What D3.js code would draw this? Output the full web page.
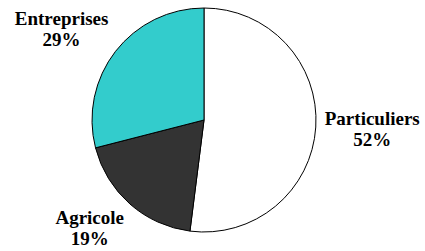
<!DOCTYPE html>
<html lang="fr">
<head>
<meta charset="UTF-8" />
<title>Répartition</title>
<script src="https://d3js.org/d3.v7.min.js"></script>
<style>
  body { margin: 0; background: #fff; }
  .lbl { font-family: "Liberation Serif", "DejaVu Serif", serif; font-weight: bold; font-size: 19px; }
</style>
</head>
<body>
<svg id="pie" width="425" height="251"></svg>
<script>
// data
var categories = ["Particuliers", "Agricole", "Entreprises"];
var values = [52, 19, 29];
var colours = ["#ffffff", "#333333", "#33cccc"];

var svg = d3.select("#pie"),
    cx = 204, cy = 120, radius = 112;

var data = categories.map(function(c, i){ return {name: c, value: values[i], colour: colours[i]}; });

var pie = d3.pie().sort(null).value(function(d){ return d.value; });
var arc = d3.arc().innerRadius(0).outerRadius(radius);

var g = svg.append("g").attr("transform", "translate(" + cx + "," + cy + ")");

var arcs = pie(data);

g.selectAll("path")
  .data(arcs)
  .enter()
  .append("path")
    .attr("d", arc)
    .attr("fill", function(d){ return d.data.colour; })
    .attr("stroke", "#000")
    .attr("stroke-width", 1);

// labels: the box corner/side facing the pie sits just off the arc's mid point
var gap = 9, lineH = 21, capH = 13;
var labels = g.selectAll("text.lbl")
  .data(arcs)
  .enter()
  .append("text")
    .attr("class", "lbl")
    .attr("fill", "#000")
    .attr("text-anchor", "middle");

labels.append("tspan").attr("x", 0).attr("dy", 0).text(function(d){ return d.data.name; });
labels.append("tspan").attr("x", 0).attr("dy", lineH).text(function(d){ return d.data.value + "%"; });

labels.each(function(d){
  var t = d3.select(this);
  var a = (d.startAngle + d.endAngle) / 2;
  var ux = Math.sin(a), uy = -Math.cos(a);
  var w = 0;
  t.selectAll("tspan").each(function(){ w = Math.max(w, this.getComputedTextLength()); });
  var h = capH + lineH;
  var fx = Math.max(-1, Math.min(1, ux * 1.6));
  var fy = Math.max(-1, Math.min(1, uy * 1.6));
  var bx = ux * (radius + gap) + fx * w / 2;
  var by = uy * (radius + gap) + fy * h / 2;
  // baseline of first line relative to block centre
  t.attr("transform", "translate(" + bx + "," + (by - h / 2 + capH) + ")");
});
</script>
</body>
</html>
